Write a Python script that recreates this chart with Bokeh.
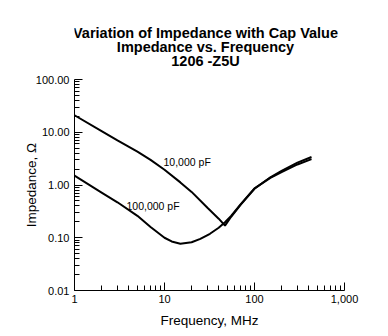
from bokeh.plotting import figure
from bokeh.models import FixedTicker, Range1d
from bokeh.layouts import column
from bokeh.core.properties import value
from bokeh.embed import file_html
from bokeh.resources import INLINE

# ---- data ----
freq_10000pF = [1, 2, 3, 5, 7, 10, 15, 20, 30, 40, 47, 55, 70, 100, 150, 200, 300, 430]
z_10000pF = [21, 10.5, 7.0, 4.3, 3.0, 1.95, 1.12, 0.74, 0.37, 0.23, 0.17, 0.25, 0.42, 0.85, 1.40, 1.85, 2.65, 3.4]

freq_100000pF = [1, 2, 3, 5, 7, 10, 12, 15, 20, 25, 32, 40, 47, 55, 70, 100, 150, 200, 300, 430]
z_100000pF = [1.5, 0.72, 0.47, 0.26, 0.16, 0.10, 0.085, 0.077, 0.082, 0.095, 0.119, 0.155, 0.197, 0.26, 0.43, 0.86, 1.36, 1.75, 2.45, 3.1]

series_labels = ["10,000 pF", "100,000 pF"]

x_ticks = [1, 10, 100, 1000]
x_tick_labels = ["1", "10", "100", "1,000"]
y_ticks = [0.01, 0.1, 1, 10, 100]
y_tick_labels = ["0.01", "0.10", "1.00", "10.00", "100.00"]

title_lines = ["Variation of Impedance with Cap Value", "Impedance vs. Frequency", "1206 -Z5U"]
x_label = "Frequency, MHz"
y_label = "Impedance, \u03a9"

FONT = "Liberation Sans"
W = 388
TITLE_H = 72
LEFT, RIGHT = 74, 44

# ---- title strip (pixel-coordinate figure, frame aligned with main chart) ----
tf = figure(width=W, height=TITLE_H, x_range=Range1d(LEFT, W - RIGHT), y_range=Range1d(TITLE_H, 0),
            output_backend="svg", toolbar_location=None,
            x_axis_location=None, y_axis_location=None,
            min_border=0, min_border_left=LEFT, min_border_right=RIGHT,
            min_border_top=0, min_border_bottom=0)
tf.outline_line_color = None
tf.grid.visible = False
tf.text(x=[205, 205, 205], y=[32, 46, 60], text=title_lines,
        text_font=value(FONT), text_font_size="14.5px", text_font_style="bold",
        text_color="black", text_align="center", text_baseline="middle")

# ---- main chart ----
p = figure(width=W, height=336 - TITLE_H, x_axis_type="log", y_axis_type="log",
           x_range=(1, 1000), y_range=(0.01, 100),
           output_backend="svg", toolbar_location=None,
           min_border_left=LEFT, min_border_right=RIGHT, min_border_top=79 - TITLE_H,
           min_border_bottom=46)

p.outline_line_color = None
p.grid.visible = False
p.background_fill_color = "white"
p.border_fill_color = "white"

def minor(ticks):
    out = []
    for d in ticks[:-1]:
        out += [d * k for k in range(2, 10)]
    return out

p.xaxis.ticker = FixedTicker(ticks=x_ticks, minor_ticks=minor(x_ticks))
p.yaxis.ticker = FixedTicker(ticks=y_ticks, minor_ticks=minor(y_ticks))
p.xaxis.major_label_overrides = {t: l for t, l in zip(x_ticks, x_tick_labels)}
p.yaxis.major_label_overrides = {t: l for t, l in zip(y_ticks, y_tick_labels)}

for ax in (p.xaxis, p.yaxis):
    ax.axis_line_color = "black"
    ax.axis_line_width = 1
    ax.major_tick_in = 8
    ax.major_tick_out = 0
    ax.minor_tick_in = 5
    ax.minor_tick_out = 0
    ax.major_tick_line_color = "black"
    ax.minor_tick_line_color = "black"
    ax.major_label_text_font = FONT
    ax.major_label_text_font_size = "11px"
    ax.major_label_text_color = "black"
    ax.axis_label_text_font = FONT
    ax.axis_label_text_font_size = "13.5px"
    ax.axis_label_text_font_style = "normal"
    ax.axis_label_text_color = "black"

p.xaxis.axis_label = x_label
p.yaxis.axis_label = y_label
p.xaxis.major_label_standoff = 4
p.yaxis.major_label_standoff = 5
p.xaxis.axis_label_standoff = 7
p.yaxis.axis_label_standoff = -6

p.line(freq_10000pF, z_10000pF, line_color="black", line_width=2)
p.line(freq_100000pF, z_100000pF, line_color="black", line_width=2)

p.text(x=[9.75, 3.78], y=[2.75, 0.40], text=series_labels,
       text_font=value(FONT), text_font_size="10.5px", text_color="black",
       text_baseline="middle", text_align="left")

layout = column(tf, p, spacing=0)
open("out.html", "w").write(file_html(layout, INLINE))
